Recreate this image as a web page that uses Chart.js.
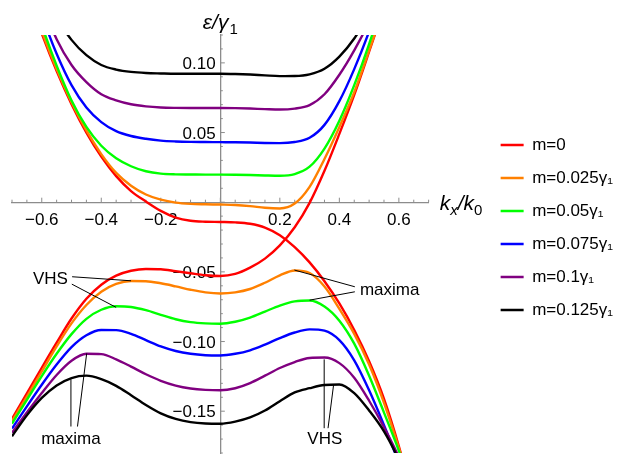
<!DOCTYPE html>
<html>
<head>
<meta charset="utf-8">
<script src="https://cdn.jsdelivr.net/npm/chart.js@4.4.1/dist/chart.umd.min.js"></script>
<style>
  html, body { margin: 0; padding: 0; background: #fff; }
</style>
</head>
<body>
<canvas id="bandChart" width="623" height="454"></canvas>
<script>
// k_x / k_0 sample points shared by every band
const kx = [-0.70, -0.65, -0.60, -0.55, -0.50, -0.45, -0.40, -0.35, -0.30, -0.25,
            -0.20, -0.15, -0.10, -0.05, 0.00, 0.05, 0.10, 0.15, 0.20, 0.25,
            0.30, 0.35, 0.40, 0.45, 0.50, 0.55, 0.60, 0.65, 0.70];

// m = 0 (the two bands cross)
const m0_a = [0.184, 0.151, 0.121, 0.0941, 0.0704, 0.0499, 0.0327, 0.0187, 0.008, 0.0005,
              -0.0062, -0.011, -0.0133, -0.014, -0.0142, -0.0145, -0.0155, -0.0182, -0.0237, -0.0322,
              -0.0432, -0.0567, -0.0727, -0.0917, -0.1142, -0.1412, -0.1752, -0.215, -0.26];
const m0_b = [-0.1555, -0.1372, -0.1188, -0.1008, -0.0835, -0.0693, -0.0592, -0.0527, -0.0492, -0.0479,
              -0.0481, -0.0495, -0.051, -0.0524, -0.053, -0.0515, -0.047, -0.0405, -0.031, -0.018,
              -0.0005, 0.0225, 0.049, 0.077, 0.108, 0.140, 0.175, 0.21, 0.25];
// m = 0.025 g1
const m025_up = [0.189, 0.1538, 0.1228, 0.0955, 0.0718, 0.0515, 0.0345, 0.021, 0.0118, 0.0055,
                 0.0018, -0.0003, -0.0012, -0.0015, -0.0017, -0.002, -0.0028, -0.004, -0.0045, -0.001,
                 0.011, 0.031, 0.054, 0.079, 0.109, 0.14, 0.175, 0.21, 0.25];
const m025_dn = [-0.157, -0.1395, -0.1215, -0.1035, -0.087, -0.0738, -0.0643, -0.0587, -0.0566, -0.0567,
                 -0.0582, -0.0604, -0.0628, -0.0647, -0.0655, -0.0647, -0.0623, -0.0578, -0.0525, -0.049,
                 -0.0508, -0.0605, -0.0765, -0.0945, -0.1165, -0.144, -0.1765, -0.212, -0.25];
// m = 0.05 g1
const m05_up = [0.197, 0.16, 0.127, 0.098, 0.073, 0.054, 0.0405, 0.0315, 0.0258, 0.0222,
                0.0205, 0.020, 0.0199, 0.0198, 0.0198, 0.0197, 0.0195, 0.0192, 0.019, 0.0202,
                0.0255, 0.0385, 0.0585, 0.084, 0.1135, 0.147, 0.184, 0.224, 0.266];
const m05_dn = [-0.159, -0.1418, -0.1248, -0.1088, -0.0947, -0.0837, -0.0772, -0.0747, -0.0752, -0.0775,
                -0.0808, -0.084, -0.0861, -0.087, -0.0872, -0.0858, -0.0828, -0.0785, -0.0742, -0.0712,
                -0.0705, -0.0748, -0.085, -0.1015, -0.1245, -0.151, -0.1785, -0.21, -0.245];
// m = 0.075 g1
const m075_up = [0.204, 0.167, 0.1345, 0.1065, 0.084, 0.068, 0.0575, 0.051, 0.0475, 0.0455,
                 0.0442, 0.0436, 0.0433, 0.0432, 0.0431, 0.043, 0.0428, 0.0425, 0.0424, 0.0432,
                 0.0462, 0.0555, 0.0725, 0.0955, 0.1225, 0.1535, 0.188, 0.225, 0.265];
const m075_dn = [-0.1625, -0.1465, -0.131, -0.1165, -0.104, -0.0955, -0.0917, -0.0918, -0.0945, -0.099,
                 -0.1035, -0.1068, -0.1088, -0.1098, -0.11, -0.1088, -0.1063, -0.1022, -0.0975, -0.0935,
                 -0.0913, -0.0922, -0.099, -0.1135, -0.135, -0.16, -0.187, -0.215, -0.245];
// m = 0.1 g1
const m10_up = [0.215, 0.176, 0.143, 0.117, 0.0985, 0.0862, 0.0775, 0.0731, 0.0703, 0.0688,
                0.068, 0.0677, 0.0676, 0.0676, 0.0676, 0.0675, 0.0672, 0.0668, 0.0665, 0.0672,
                0.0697, 0.0775, 0.0915, 0.109, 0.1295, 0.154, 0.182, 0.213, 0.247];
const m10_dn = [-0.1655, -0.151, -0.137, -0.124, -0.1138, -0.1088, -0.109, -0.1128, -0.118, -0.1235,
                -0.1282, -0.1316, -0.1337, -0.1347, -0.135, -0.1335, -0.1298, -0.1245, -0.119, -0.1147,
                -0.1118, -0.1115, -0.1155, -0.126, -0.1425, -0.1615, -0.183, -0.21, -0.24];
// m = 0.125 g1
const m125_up = [0.214, 0.181, 0.154, 0.1325, 0.1165, 0.1055, 0.0985, 0.0952, 0.0935, 0.0927,
                 0.0924, 0.0922, 0.0922, 0.0922, 0.0922, 0.092, 0.0916, 0.091, 0.0905, 0.0906,
                 0.0918, 0.0958, 0.1045, 0.1175, 0.135, 0.157, 0.183, 0.212, 0.245];
const m125_dn = [-0.168, -0.153, -0.1405, -0.1315, -0.1262, -0.1245, -0.127, -0.1318, -0.1385, -0.1455,
                 -0.1515, -0.1555, -0.1578, -0.1588, -0.159, -0.1575, -0.1545, -0.1495, -0.1428, -0.1365,
                 -0.1335, -0.1312, -0.1308, -0.137, -0.1495, -0.1645, -0.185, -0.21, -0.24];

const legendNames = ['m=0', 'm=0.025\u03b3\u2081', 'm=0.05\u03b3\u2081', 'm=0.075\u03b3\u2081', 'm=0.1\u03b3\u2081', 'm=0.125\u03b3\u2081'];
const bandColors = ['#ff0000', '#ff8000', '#00ff00', '#0000ff', '#800080', '#000000'];
const bandPairs = [[m0_a, m0_b], [m025_up, m025_dn], [m05_up, m05_dn],
                   [m075_up, m075_dn], [m10_up, m10_dn], [m125_up, m125_dn]];

// callouts, in data units
const notes = [
  { text: 'VHS', at: [-0.571, -0.0556], lines: [[-0.498, -0.0535, -0.300, -0.0564], [-0.499, -0.0588, -0.350, -0.0755]] },
  { text: 'maxima', at: [0.569, -0.0631], lines: [[0.452, -0.0607, 0.249, -0.0487], [0.452, -0.0643, 0.300, -0.0703]] },
  { text: 'maxima', at: [-0.502, -0.1703], lines: [[-0.502, -0.161, -0.502, -0.1271], [-0.480, -0.161, -0.449, -0.1085]] },
  { text: 'VHS', at: [0.351, -0.1703], lines: [[0.349, -0.1622, 0.349, -0.1128], [0.362, -0.1622, 0.381, -0.1305]] }
];

const FONT = "'Liberation Sans', Arial, sans-serif";
const AXIS_GRAY = '#8c8c8c';
const GAP_W = 56;

function fmt(v, d) {
    return (v < 0 ? '\u2212' : '') + Math.abs(v).toFixed(d);
}

let datasets = [];
bandPairs.forEach((pair, i) => {
    pair.forEach((band, j) => {
        datasets.push({
            label: legendNames[i],
            showInLegend: j === 0,
            data: kx.map((x, k) => ({x: x, y: band[k]})),
            borderColor: bandColors[i],
            backgroundColor: bandColors[i],
            borderWidth: 2.4,
            pointRadius: 0,
            cubicInterpolationMode: 'monotone',
            fill: false,
            xAxisID: 'x',
            yAxisID: 'y',
            order: 20 - i
        });
    });
});

// draws mixed italic / subscript text, starting at x
function drawRich(ctx, parts, x, y) {
    for (const p of parts) {
        ctx.font = p.font;
        ctx.fillText(p.t, x, y + (p.dy || 0));
        x += ctx.measureText(p.t).width + (p.gap || 0);
    }
}
function richWidth(ctx, parts) {
    let w = 0;
    for (const p of parts) { ctx.font = p.font; w += ctx.measureText(p.t).width + (p.gap || 0); }
    return w;
}

const axisDecor = {
    id: 'axisDecor',
    beforeDatasetsDraw(chart) {
        const {ctx, scales: {x, y}} = chart;
        const x0 = x.getPixelForValue(0), y0 = y.getPixelForValue(0);
        ctx.save();
        ctx.strokeStyle = AXIS_GRAY;
        ctx.lineWidth = 1;
        ctx.beginPath();
        for (let i = -14; i <= 14; i++) {
            const px = x.getPixelForValue(i * 0.05);
            const len = i % 4 === 0 ? 4.5 : 2.5;
            ctx.moveTo(px, y0); ctx.lineTo(px, y0 - len);
        }
        for (let j = -18; j <= 12; j++) {
            const py = y.getPixelForValue(j * 0.01);
            const len = j % 5 === 0 ? 4.5 : 2.5;
            ctx.moveTo(x0, py); ctx.lineTo(x0 + len, py);
        }
        ctx.stroke();
        ctx.restore();
    },
    afterDraw(chart) {
        const {ctx, scales: {x, y}, chartArea} = chart;
        ctx.save();
        ctx.fillStyle = '#000';
        ctx.textBaseline = 'alphabetic';
        ctx.textAlign = 'left';

        const it = 'italic 21px ' + FONT, sub = '15px ' + FONT, itSub = 'italic 15px ' + FONT;
        const yLab = [{t: '\u03b5', font: it}, {t: '/', font: it}, {t: '\u03b3', font: it, gap: 1}, {t: '1', font: sub, dy: 5}];
        const x0 = x.getPixelForValue(0);
        drawRich(ctx, yLab, x0 - richWidth(ctx, yLab) / 2, chartArea.top - 6);

        const xLab = [{t: 'k', font: it}, {t: 'x', font: itSub, dy: 5}, {t: '/', font: it}, {t: 'k', font: it}, {t: '0', font: sub, dy: 5}];
        drawRich(ctx, xLab, chartArea.right + 11, y.getPixelForValue(0) + 8);

        // callouts
        ctx.font = '17px ' + FONT;
        ctx.textAlign = 'center';
        ctx.textBaseline = 'middle';
        ctx.strokeStyle = '#000';
        ctx.lineWidth = 1;
        for (const n of notes) {
            ctx.fillText(n.text, x.getPixelForValue(n.at[0]), y.getPixelForValue(n.at[1]));
            ctx.beginPath();
            for (const l of n.lines) {
                ctx.moveTo(x.getPixelForValue(l[0]), y.getPixelForValue(l[1]));
                ctx.lineTo(x.getPixelForValue(l[2]), y.getPixelForValue(l[3]));
            }
            ctx.stroke();
        }
        ctx.restore();
    }
};

Chart.defaults.font.family = FONT;

const ctx = document.getElementById('bandChart').getContext('2d');
const bandChart = new Chart(ctx, {
    type: 'line',
    data: { datasets: datasets },
    options: {
        responsive: false,
        animation: false,
        devicePixelRatio: 1,
        events: [],
        layout: { padding: { left: 12, top: 35, right: 0, bottom: 1 } },
        elements: { line: { capBezierPoints: false } },
        scales: {
            x: {
                type: 'linear',
                min: -0.7,
                max: 0.7,
                position: { y: 0 },
                grid: { display: false, drawTicks: true, tickLength: 8 },
                border: { display: true, color: AXIS_GRAY, width: 1.3 },
                ticks: {
                    stepSize: 0.1,
                    autoSkip: false,
                    maxRotation: 0,
                    minRotation: 0,
                    padding: 0,
                    color: '#000',
                    font: { size: 17 },
                    callback: (v) => {
                        const k = Math.round(v * 10);
                        if (k === 0 || k % 2 !== 0) return null;
                        return fmt(v, 1);
                    }
                }
            },
            y: {
                type: 'linear',
                min: -0.18,
                max: 0.12,
                position: { x: 0 },
                grid: { display: false, drawTicks: false },
                border: { display: true, color: AXIS_GRAY, width: 1.3 },
                ticks: {
                    stepSize: 0.01,
                    autoSkip: false,
                    padding: 0,
                    labelOffset: 1.5,
                    color: '#000',
                    font: { size: 17, lineHeight: 0.1 },
                    callback: (v) => {
                        const k = Math.round(v * 100);
                        if (k === 0 || k % 5 !== 0) return null;
                        return fmt(v, 2) + ' ';
                    }
                }
            },
            gap: {
                type: 'linear',
                position: 'right',
                display: true,
                grid: { display: false },
                border: { display: false },
                ticks: { display: false },
                afterFit: (s) => { s.width = GAP_W; }
            }
        },
        plugins: {
            tooltip: { enabled: false },
            legend: {
                position: 'right',
                align: 'start',
                maxWidth: 140,
                title: { display: true, text: '', font: { size: 10 }, padding: { top: 73.5, bottom: 0 } },
                labels: {
                    color: '#000',
                    font: { size: 17 },
                    boxWidth: 23,
                    boxHeight: 2.5,
                    padding: 16,
                    generateLabels: (chart) => Chart.defaults.plugins.legend.labels.generateLabels(chart)
                        .filter(item => chart.data.datasets[item.datasetIndex].showInLegend)
                        .sort((a, b) => a.datasetIndex - b.datasetIndex)
                        .map(item => Object.assign(item, { fillStyle: item.strokeStyle, lineWidth: 0 }))
                }
            }
        }
    },
    plugins: [axisDecor]
});
</script>
</body>
</html>
